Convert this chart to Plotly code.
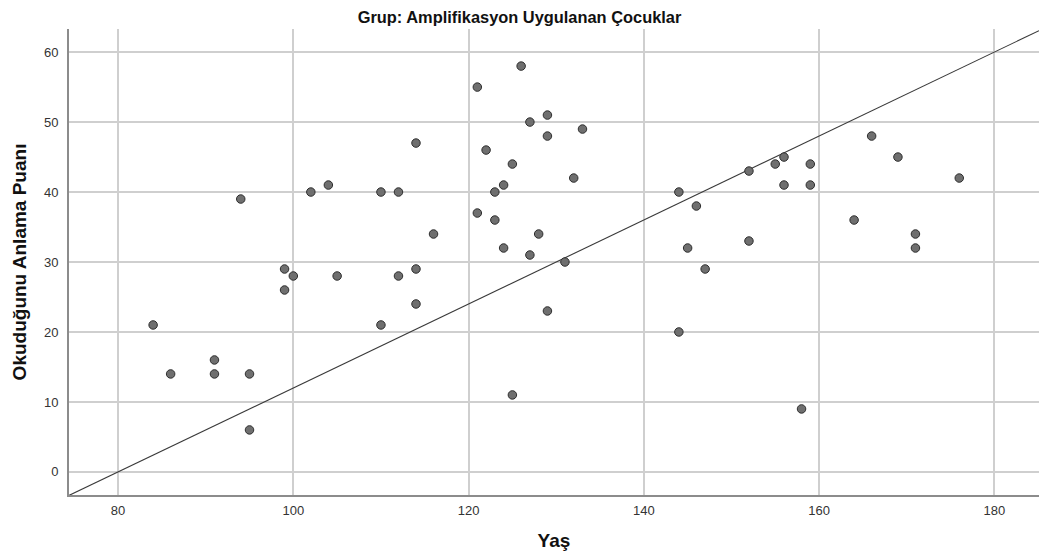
import plotly.graph_objects as go

# Age (months) and reading comprehension score for each child
yas = [84, 86, 91, 91, 94, 95, 95, 99, 99, 100, 102, 104, 105, 110, 110, 112, 112,
       114, 114, 114, 116, 121, 121, 122, 123, 123, 124, 124, 125, 125, 126, 127,
       127, 128, 129, 129, 129, 131, 132, 133, 144, 144, 145, 146, 147, 152, 152,
       155, 156, 156, 158, 159, 159, 164, 166, 169, 171, 171, 176]
puan = [21, 14, 16, 14, 39, 14, 6, 29, 26, 28, 40, 41, 28, 40, 21, 40, 28,
        47, 29, 24, 34, 55, 37, 46, 40, 36, 41, 32, 44, 11, 58, 50,
        31, 34, 51, 48, 23, 30, 42, 49, 40, 20, 32, 38, 29, 43, 33,
        44, 45, 41, 9, 44, 41, 36, 48, 45, 34, 32, 42]

x_ticks = [80, 100, 120, 140, 160, 180]
y_ticks = [0, 10, 20, 30, 40, 50, 60]
x_range = [74.4, 185.1]
y_range = [-3.3, 63.3]

# Reference line y = a*x + b
ref_slope = 0.6
ref_intercept = -48

title = "Grup: Amplifikasyon Uygulanan Çocuklar"
x_title = "Yaş"
y_title = "Okuduğunu Anlama Puanı"

font = "Liberation Sans, Arial, sans-serif"

fig = go.Figure()

fig.add_trace(go.Scatter(
    x=x_range,
    y=[ref_slope * v + ref_intercept for v in x_range],
    mode="lines",
    line=dict(color="#3a3a3a", width=1.1),
    hoverinfo="skip",
    showlegend=False,
))

fig.add_trace(go.Scatter(
    x=yas, y=puan,
    mode="markers",
    marker=dict(size=8.5, color="#6f6f6f", line=dict(color="#2e2e2e", width=1)),
    showlegend=False,
))

fig.update_layout(
    width=1039, height=555,
    margin=dict(l=69, r=0, t=29, b=60),
    paper_bgcolor="white",
    plot_bgcolor="white",
    font=dict(family=font, color="#333333", size=13),
    title=dict(text=f"<b>{title}</b>", x=0.5, xanchor="center",
               y=1 - 17 / 555, yanchor="middle",
               font=dict(family=font, size=16.4, color="#111111")),
)

fig.update_xaxes(
    range=x_range, tickvals=x_ticks, ticks="",
    showgrid=True, gridcolor="#cfcfcf", gridwidth=1.5,
    zeroline=False, showline=True, linecolor="#8c8c8c", linewidth=2,
    tickfont=dict(size=13, color="#333333"),
    ticklabelstandoff=2,
    title=dict(text=f"<b>{x_title}</b>", standoff=17,
               font=dict(family=font, size=19, color="#111111")),
)

fig.update_yaxes(
    range=y_range, tickvals=y_ticks, ticks="",
    showgrid=True, gridcolor="#cfcfcf", gridwidth=1.5,
    zeroline=False, showline=True, linecolor="#8c8c8c", linewidth=2,
    tickfont=dict(size=13, color="#333333"),
    ticklabelstandoff=6,
    title=dict(text=f"<b>{y_title}</b>", standoff=12,
               font=dict(family=font, size=19, color="#111111")),
)

fig.write_html("out.html")
